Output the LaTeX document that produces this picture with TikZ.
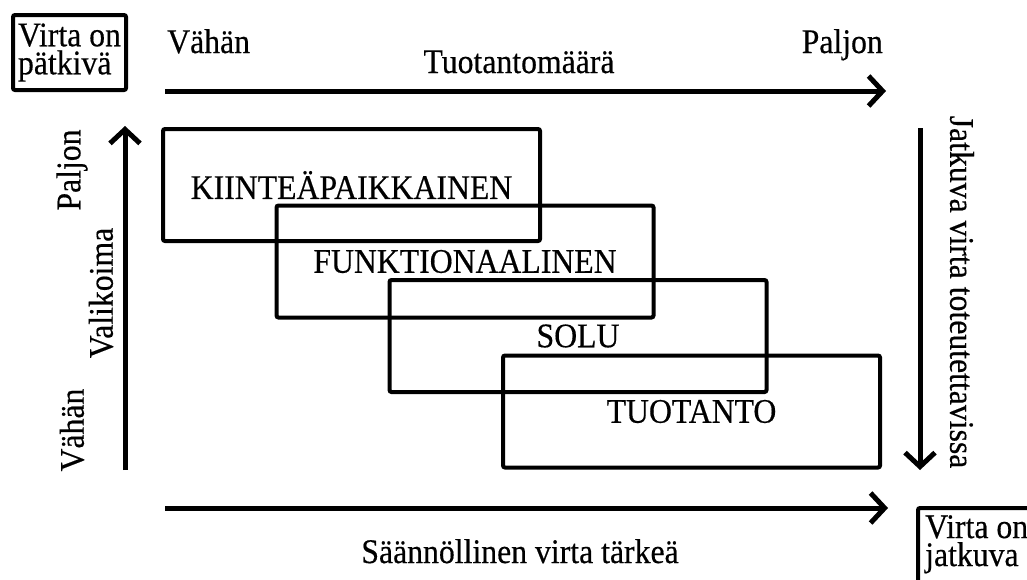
\documentclass[tikz,border=0pt]{standalone}
\usepackage{fontspec}
\setmainfont{Liberation Serif}[FakeStretch=0.92,FakeBold=0.4]
\usetikzlibrary{arrows.meta}
\begin{document}
\begin{tikzpicture}[x=1pt,y=-1pt,
  lbl/.style={font=\fontsize{34.5}{26}\selectfont, inner sep=0pt},
  pair/.style={font=\fontsize{34.5}{28}\selectfont, inner sep=0pt, align=left},
  boxline/.style={draw, line width=4pt, rounded corners=2pt},
  stage/.style={boxline, lbl, minimum width=377pt, minimum height=112pt},
  axis/.style={line width=5pt, -{Straight Barb[length=14pt,width=30pt]}}]
\useasboundingbox (0,0) rectangle (1027,579);
\clip (0,0) rectangle (1027,579);

% stage boxes
\node[stage] (b1) at (351.5,185) {KIINTEÄPAIKKAINEN};
\node[stage] (b2) at (465,261.5) {FUNKTIONAALINEN};
\node[stage] (b3) at (578,336) {SOLU};
\node[stage] (b4) at (691.5,411.5) {TUOTANTO};

% corner boxes
\node[boxline, pair, minimum width=113pt, minimum height=75pt] (tl) at (69.5,52.5) {Virta on\\pätkivä};
\node[pair, anchor=north west, inner xsep=7pt, inner ysep=7pt] (br) at (918,508) {Virta on\\jatkuva};
\draw[boxline] ([yshift=-100pt]br.north west) |- ([xshift=100pt]br.north east);

% axes
\coordinate (ta1) at (165,91);  \coordinate (ta2) at (886,91);
\coordinate (ba1) at (165,508); \coordinate (ba2) at (888,508);
\coordinate (la1) at (125,470); \coordinate (la2) at (125,126);
\coordinate (ra1) at (920,128); \coordinate (ra2) at (920,470);
\draw[axis] (ta1) -- (ta2);
\draw[axis] (ba1) -- (ba2);
\draw[axis] (la1) -- (la2);
\draw[axis] (ra1) -- (ra2);

% labels
\node[lbl, anchor=base west] (tv) at (167,53) {Vähän};
\node[lbl, anchor=base east] (tp) at (883,53) {Paljon};
\node[lbl, anchor=base] (tm) at (519,73) {Tuotantomäärä};
\node[lbl, anchor=base] (sv) at (520,563) {Säännöllinen virta tärkeä};
\node[lbl, rotate=90] (lp) at (72,170) {Paljon};
\node[lbl, rotate=90] (lva) at (101,293) {Valikoima};
\node[lbl, rotate=90] (lv) at (72,430) {Vähän};
\node[lbl, rotate=-90] (rj) at (962,292) {Jatkuva virta toteutettavissa};
\end{tikzpicture}
\end{document}
